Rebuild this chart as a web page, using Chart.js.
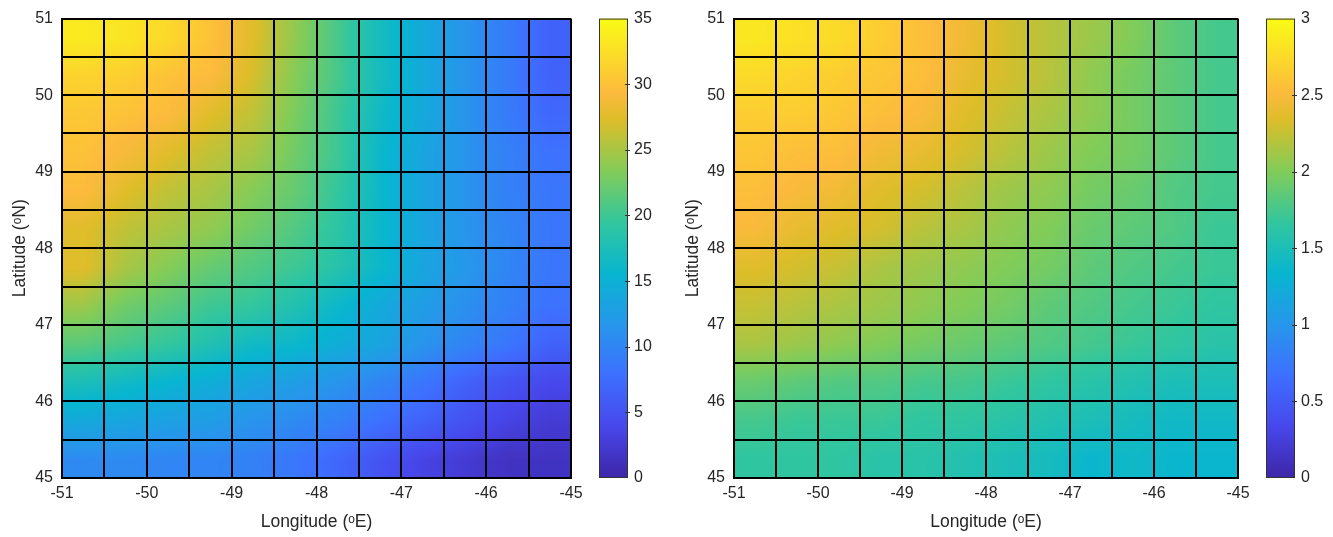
<!DOCTYPE html>
<html>
<head>
<meta charset="utf-8">
<script src="https://cdn.jsdelivr.net/npm/chart.js@4.4.0/dist/chart.umd.min.js"></script>
<style>
html,body{margin:0;padding:0;background:#fff;}
#wrap{position:relative;width:1333px;height:537px;overflow:hidden;}
canvas{position:absolute;top:0;display:block;}
</style>
</head>
<body>
<div id="wrap">
  <canvas id="cA" width="667" height="537" style="left:0"></canvas>
  <canvas id="cB" width="666" height="537" style="left:667px"></canvas>
</div>
<script>
// cell edges (left edge of each column, top edge of each row)
const lonCells = [-51,-50.5,-50,-49.5,-49,-48.5,-48,-47.5,-47,-46.5,-46,-45.5];
const latCells = [51,50.5,50,49.5,49,48.5,48,47.5,47,46.5,46,45.5];
const xTicks = [-51,-50,-49,-48,-47,-46,-45];
const yTicks = [45,46,47,48,49,50,51];
const cbTicksA = [0,5,10,15,20,25,30,35];
const cbTicksB = [0,0.5,1,1.5,2,2.5,3];

// left panel values, rows top (51N) -> bottom (45N)
const valuesA = [
  [33.5,33,32,30,27.5,24,20.5,17,14,11.5,9,6.5],
  [31.5,31,30,29.5,27,23.5,20.5,17,14,11.5,9,6.5],
  [30.5,30,29.5,27.5,26,23,20,16.5,14,11.5,9,7],
  [30,29,27.5,26,25,22.5,20,16,13.5,11.5,9.5,8],
  [29.5,27.5,26,25,23.5,22,19.5,16,13.5,11.5,9.5,8.5],
  [27.5,26,25,24,22.5,21,19,16,13.5,11.5,10,8.5],
  [27.5,25,23.5,22,21,20,18.5,16,13.5,12,10,8.5],
  [24.5,22.5,21.5,20,19.5,18,16,14,12.5,11,9.5,8],
  [21.5,20.5,19.5,18,16.5,16,14.5,13.5,11.5,10,8.5,6.5],
  [17.5,16.5,15.5,14.5,13.5,12.5,11.5,10,8.5,6.5,5,4],
  [14,13.5,13,12.5,11.5,10.5,9.5,8,6.5,5,3.5,2.5],
  [10.5,10.5,10,10,9.5,8.5,7,5,3.5,2.5,1.5,1.5]
];
// right panel values
const valuesB = [
  [2.85,2.8,2.75,2.65,2.55,2.45,2.3,2.2,2.1,2.0,1.85,1.75],
  [2.75,2.7,2.65,2.6,2.55,2.4,2.3,2.2,2.05,1.95,1.85,1.75],
  [2.65,2.65,2.6,2.55,2.5,2.35,2.25,2.15,2.05,1.95,1.85,1.75],
  [2.6,2.55,2.55,2.45,2.4,2.3,2.2,2.1,2.0,1.95,1.85,1.75],
  [2.55,2.5,2.45,2.35,2.3,2.2,2.1,2.05,1.95,1.9,1.8,1.75],
  [2.5,2.4,2.35,2.3,2.2,2.15,2.05,2.0,1.9,1.85,1.8,1.7],
  [2.35,2.3,2.25,2.15,2.1,2.05,2.0,1.95,1.85,1.8,1.75,1.7],
  [2.25,2.2,2.15,2.1,2.05,2.0,1.95,1.85,1.8,1.75,1.7,1.65],
  [2.15,2.1,2.05,2.0,1.95,1.9,1.85,1.8,1.75,1.7,1.65,1.6],
  [1.9,1.85,1.8,1.8,1.75,1.75,1.7,1.65,1.6,1.55,1.5,1.5],
  [1.75,1.7,1.7,1.7,1.65,1.65,1.6,1.55,1.5,1.45,1.4,1.4],
  [1.65,1.65,1.65,1.6,1.6,1.55,1.5,1.45,1.35,1.4,1.35,1.35]
];

// parula colour stops
const parula = [
  [0.000, 62, 38,168],
  [0.111, 71, 71,235],
  [0.222, 62,111,255],
  [0.333, 39,150,235],
  [0.444,  8,181,208],
  [0.555, 49,198,159],
  [0.667,129,204, 89],
  [0.778,220,189, 41],
  [0.840,252,186, 61],
  [0.889,252,207, 48],
  [1.000,249,251, 21]
];
function parulaRGB(t){
  t = Math.max(0, Math.min(1, t));
  for(let i=1;i<parula.length;i++){
    const a = parula[i-1], b = parula[i];
    if(t <= b[0]){
      const f = (t - a[0]) / (b[0] - a[0]);
      return [a[1] + (b[1]-a[1])*f, a[2] + (b[2]-a[2])*f, a[3] + (b[3]-a[3])*f];
    }
  }
  return [249,251,21];
}

const FONT = "'Liberation Sans', Arial, Helvetica, sans-serif";
const TXT = '#262626';

// bilinear value between cell centres
function sample(vals, fc, fr){
  const n = vals.length - 1;
  fc = Math.max(0, Math.min(n, fc));
  fr = Math.max(0, Math.min(n, fr));
  const c0 = Math.min(Math.floor(fc), n-1), r0 = Math.min(Math.floor(fr), n-1);
  const u = fc - c0, v = fr - r0;
  const a = vals[r0][c0], b = vals[r0][c0+1], c = vals[r0+1][c0], d = vals[r0+1][c0+1];
  return a*(1-u)*(1-v) + b*u*(1-v) + c*(1-u)*v + d*u*v;
}

const heatPlugin = {
  id: 'heat',
  beforeDatasetsDraw(chart, args, opts){
    const {ctx, chartArea, scales:{x, y}} = chart;
    const vals = opts.values, vmax = opts.max;
    const L = Math.round(chartArea.left), T = Math.round(chartArea.top);
    const W = Math.ceil(chartArea.right - L), H = Math.ceil(chartArea.bottom - T);
    const off = document.createElement('canvas');
    off.width = W; off.height = H;
    const octx = off.getContext('2d');
    const img = octx.createImageData(W, H);
    latCells.forEach((top, r)=>{
      lonCells.forEach((left, c)=>{
        const px0 = Math.round(x.getPixelForValue(left)), px1 = Math.round(x.getPixelForValue(left + 0.5));
        const py0 = Math.round(y.getPixelForValue(top)), py1 = Math.round(y.getPixelForValue(top - 0.5));
        for(let py=py0; py<py1; py++){
          for(let px=px0; px<px1; px++){
            const fc = c + (px + 0.5 - px0) / (px1 - px0) - 0.5;
            const fr = r + (py + 0.5 - py0) / (py1 - py0) - 0.5;
            const col = parulaRGB(sample(vals, fc, fr) / vmax);
            const ix = px - L, iy = py - T;
            if(ix < 0 || iy < 0 || ix >= W || iy >= H) continue;
            const k = (iy * W + ix) * 4;
            img.data[k] = col[0]; img.data[k+1] = col[1]; img.data[k+2] = col[2]; img.data[k+3] = 255;
          }
        }
      });
    });
    octx.putImageData(img, 0, 0);
    ctx.drawImage(off, L, T);
  },
  afterDraw(chart, args, opts){
    const {ctx, chartArea} = chart;
    const cb = chart.scales.cb;
    const x0 = chartArea.right + 28, w = 29;
    const yTop = cb.getPixelForValue(opts.max), yBot = cb.getPixelForValue(0);
    const grad = ctx.createLinearGradient(0, yBot, 0, yTop);
    parula.forEach(s=>grad.addColorStop(s[0], `rgb(${s[1]},${s[2]},${s[3]})`));
    ctx.save();
    ctx.fillStyle = grad;
    ctx.fillRect(x0, yTop, w, yBot - yTop);
    ctx.strokeStyle = '#333';
    ctx.lineWidth = 1;
    ctx.strokeRect(x0 + 0.5, yTop + 0.5, w - 1, yBot - yTop - 1);
    opts.ticks.forEach(t=>{
      if(t === 0 || t === opts.max) return;
      const py = Math.round(cb.getPixelForValue(t)) + 0.5;
      ctx.beginPath();
      ctx.moveTo(x0 + w - 3, py);
      ctx.lineTo(x0 + w + 2, py);
      ctx.stroke();
    });
    ctx.restore();
  }
};

function makeChart(id, vals, vmax, cbTicks, yWidth, cbWidth, yTitlePad){
  const points = [];
  latCells.forEach((top, r)=>{
    lonCells.forEach((left, c)=>{
      points.push({x: left + 0.25, y: top - 0.25, v: vals[r][c]});
    });
  });
  return new Chart(document.getElementById(id), {
    type: 'scatter',
    data: { datasets: [{ data: points, pointRadius: 0, pointHoverRadius: 0 }] },
    options: {
      responsive: false,
      animation: false,
      events: [],
      layout: { padding: { top: 18, left: 0, right: 0, bottom: 0 } },
      plugins: {
        legend: { display: false },
        tooltip: { enabled: false },
        heat: { values: vals, max: vmax, ticks: cbTicks }
      },
      scales: {
        x: {
          type: 'linear', min: xTicks[0], max: xTicks[xTicks.length-1],
          afterFit: s => { s.height = 59; },
          ticks: {
            stepSize: 0.5, autoSkip: false, maxRotation: 0, padding: 6,
            color: TXT, font: { family: FONT, size: 16 },
            callback: v => xTicks.includes(v) ? String(v) : ''
          },
          grid: { color: '#000', lineWidth: 2, drawTicks: false, z: 1 },
          border: { color: '#000', width: 2, z: 1 },
          title: { display: true, text: 'Longitude (ᵒE)', color: TXT,
                   font: { family: FONT, size: 17.5, lineHeight: 1.2 }, padding: { top: 0, bottom: 4 } }
        },
        y: {
          type: 'linear', min: yTicks[0], max: yTicks[yTicks.length-1],
          afterFit: s => { s.width = yWidth; },
          ticks: {
            stepSize: 0.5, autoSkip: false, padding: 9,
            color: TXT, font: { family: FONT, size: 16 },
            callback: v => yTicks.includes(v) ? String(v) : ''
          },
          grid: { color: '#000', lineWidth: 2, drawTicks: false, z: 1 },
          border: { color: '#000', width: 2, z: 1 },
          title: { display: true, text: 'Latitude (ᵒN)', color: TXT,
                   font: { family: FONT, size: 17.5, lineHeight: 1.2 }, padding: { top: yTitlePad, bottom: 0 } }
        },
        cb: {
          type: 'linear', position: 'right', min: 0, max: vmax,
          afterFit: s => { s.width = cbWidth; s.paddingTop = 0; s.paddingBottom = 0; },
          afterBuildTicks: s => { s.ticks = cbTicks.map(v => ({ value: v })); },
          ticks: { padding: 63, color: TXT, font: { family: FONT, size: 16 },
                   callback: v => String(v) },
          grid: { display: false, drawTicks: false },
          border: { display: false }
        }
      }
    },
    plugins: [heatPlugin]
  });
}

makeChart('cA', valuesA, 35, cbTicksA, 62, 96, 10);
makeChart('cB', valuesB, 3, cbTicksB, 67, 95, 16);
</script>
</body>
</html>
